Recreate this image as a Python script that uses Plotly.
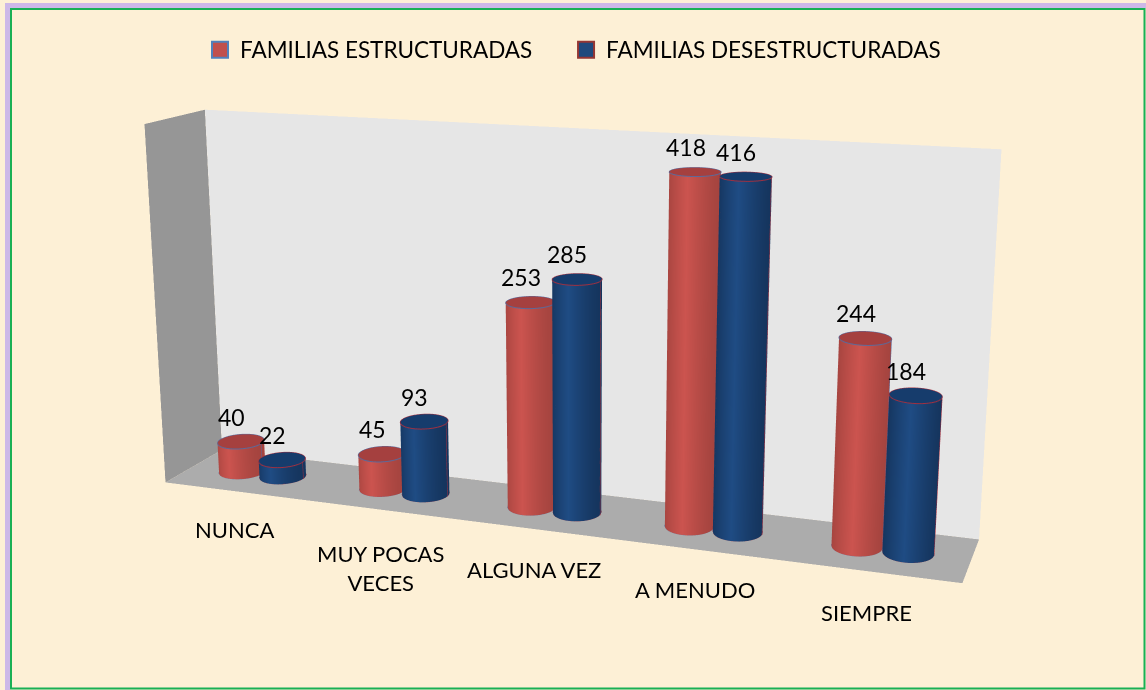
import numpy as np
import plotly.graph_objects as go

categories = ["NUNCA", "MUY POCAS<br>VECES", "ALGUNA VEZ", "A MENUDO", "SIEMPRE"]
series_names = ["FAMILIAS ESTRUCTURADAS", "FAMILIAS DESESTRUCTURADAS"]
estructuradas = [40, 45, 253, 418, 244]
desestructuradas = [22, 93, 285, 416, 184]
ZMAX = 450

# The figure is drawn larger than the window and shifted, so the scene's fixed
# 45 degree field of view gives the long-lens perspective of the original.
WF, HF = 2400, 1500
TX, TY = 622, 430
EYE = dict(x=1.4359, y=-3.9016, z=1.0645)
CENTER = dict(x=-0.0389, y=0.2834, z=-0.0516)
ASPECT = dict(x=2, y=0.2807, z=0.9134)

def px(x): return (x + TX) / WF
def py(y): return 1 - (y + TY) / HF

RX, RY = 0.145, 0.22
YC = 0.5
OFF = 0.147
RED = ["#A5443F", "#CC544F"]
BLUE = ["#15355E", "#1F4C84"]
CAT_SHIFT_X = [0, 0, 0, -2, -5]
CAT_SHIFT_Y = [-38, -58, -40, -40, -41]

fig = go.Figure()
flat = dict(ambient=1, diffuse=0, specular=0, roughness=1, fresnel=0)

def wall(xs, ys, zs, color):
    fig.add_trace(go.Mesh3d(x=xs, y=ys, z=zs, i=[0, 0], j=[1, 2], k=[2, 3], color=color, flatshading=True,
                            lighting=flat, hoverinfo="skip", showlegend=False))

wall([0, 5, 5, 0], [1, 1, 1, 1], [0, 0, ZMAX, ZMAX], "#E6E6E6")
wall([0, 0, 0, 0], [0, 1, 1, 0], [0, 0, ZMAX, ZMAX], "#969696")
wall([0, 5, 5, 0], [0, 0, 1, 1], [0, 0, 0, 0], "#ACACAC")

theta = np.linspace(0, 2 * np.pi, 73)

def cylinder(cx, v, scale, cap, edge):
    X = np.array([cx + RX * np.cos(theta)] * 2)
    Y = np.array([YC + RY * np.sin(theta)] * 2)
    Z = np.array([np.zeros_like(theta), np.full_like(theta, v)])
    C = 1 - np.array([np.abs(np.cos(theta))] * 2)
    fig.add_trace(go.Surface(x=X, y=Y, z=Z, surfacecolor=C, colorscale=[[0, scale[0]], [1, scale[1]]],
                             cmin=0, cmax=1, showscale=False, lighting=flat, hoverinfo="skip"))
    rr = np.array([0, 1.0])
    XC = cx + np.outer(rr, RX * np.cos(theta))
    YCap = YC + np.outer(rr, RY * np.sin(theta))
    ZC = np.full_like(XC, v)
    fig.add_trace(go.Surface(x=XC, y=YCap, z=ZC, surfacecolor=np.zeros_like(XC), colorscale=[[0, cap], [1, cap]],
                             showscale=False, lighting=flat, hoverinfo="skip"))
    for z in (v, 0):
        fig.add_trace(go.Scatter3d(x=cx + RX * np.cos(theta), y=YC + RY * np.sin(theta), z=np.full_like(theta, z),
                                   mode="lines", line=dict(color=edge, width=2), hoverinfo="skip", showlegend=False))
    for sx in (-1, 1):
        fig.add_trace(go.Scatter3d(x=[cx + sx * RX] * 2, y=[YC, YC], z=[0, v], mode="lines",
                                   line=dict(color=edge, width=2), hoverinfo="skip", showlegend=False))

ann = []
label_font = dict(family="Lato", size=23, color="#000")
for i, cat in enumerate(categories):
    c = i + 0.5
    cylinder(c - OFF, estructuradas[i], RED, "#A5403F", "#5A6A9C")
    cylinder(c + OFF, desestructuradas[i], BLUE, "#163C6C", "#A03040")
    ann.append(dict(x=c - OFF, y=YC, z=estructuradas[i], text=str(estructuradas[i]), showarrow=False,
                    xshift=-9, yshift=25, font=label_font))
    ann.append(dict(x=c + OFF, y=YC, z=desestructuradas[i], text=str(desestructuradas[i]), showarrow=False,
                    xshift=-10, yshift=25, font=label_font))
    ann.append(dict(x=c, y=0, z=0, text=cat, showarrow=False, xshift=CAT_SHIFT_X[i], yshift=CAT_SHIFT_Y[i],
                    font=dict(family="Lato", size=22, color="#000")))

fig.add_trace(go.Scatter3d(x=[None], y=[None], z=[None], mode="markers", name=series_names[0] + "\u00a0" * 5,
                           marker=dict(symbol="square", size=16, color="#C0504D", line=dict(color="#4F81BD", width=2))))
fig.add_trace(go.Scatter3d(x=[None], y=[None], z=[None], mode="markers", name=series_names[1],
                           marker=dict(symbol="square", size=16, color="#1F497D", line=dict(color="#943634", width=2))))

ax_off = dict(visible=False, autorange=False)
fig.update_layout(
    width=WF, height=HF, margin=dict(l=0, r=0, t=0, b=0), paper_bgcolor="#FDF0D6",
    showlegend=True,
    legend=dict(orientation="h", x=px(200), xanchor="left", y=py(50), yanchor="middle",
                font=dict(family="Lato", size=22.5, color="#000"),
                bgcolor="rgba(0,0,0,0)", itemwidth=30),
    scene=dict(domain=dict(x=[0, 1], y=[0, 1]), aspectmode="manual", aspectratio=ASPECT,
               xaxis=dict(range=[0, 5], **ax_off), yaxis=dict(range=[0, 1], **ax_off), zaxis=dict(range=[0, ZMAX], **ax_off),
               camera=dict(eye=EYE, center=CENTER, up=dict(x=0, y=0, z=1), projection=dict(type="perspective")),
               annotations=ann),
    shapes=[dict(type="line", xref="paper", yref="paper", x0=px(7.5), x1=px(7.5), y0=py(690), y1=py(3), line=dict(color="#CDB8E8", width=5), layer="below"),
            dict(type="line", xref="paper", yref="paper", x0=px(5), x1=px(1146), y0=py(5.5), y1=py(5.5), line=dict(color="#CDB8E8", width=5), layer="below"),
            dict(type="rect", xref="paper", yref="paper", x0=px(11), x1=px(1144.5), y0=py(9), y1=py(688.5), line=dict(color="#19B055", width=2), layer="below")],
)
fig.write_html("out.html", config=dict(displayModeBar=False),
               post_script=f"document.body.style.margin='0';document.body.style.overflow='hidden';var g=document.querySelector('.plotly-graph-div');g.style.position='absolute';g.style.left='{-TX}px';g.style.top='{-TY}px';")
